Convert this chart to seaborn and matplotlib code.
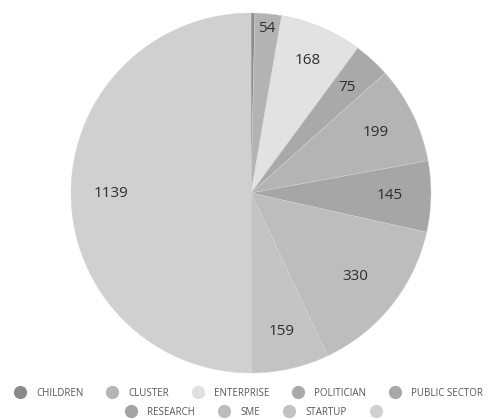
import numpy as np
import matplotlib
matplotlib.use("Agg")
import matplotlib.pyplot as plt
from matplotlib.lines import Line2D
import seaborn as sns

categories = ["CHILDREN", "CLUSTER", "ENTERPRISE", "POLITICIAN", "PUBLIC SECTOR",
              "RESEARCH", "SME", "STARTUP", ""]
values = [8, 54, 168, 75, 199, 145, 330, 159, 1139]
colors = ["#8c8c8c", "#b3b3b3", "#e2e2e2", "#a9a9a9", "#b4b4b4",
          "#a6a6a6", "#bdbdbd", "#c3c3c3", "#d0d0d0"]
legend_colors = ["#8a8a8a", "#b5b5b5", "#e0e0e0", "#a9a9a9", "#a8a8a8",
                 "#a3a3a3", "#bcbcbc", "#c2c2c2", "#d0d0d0"]
label_r = [None, 0.92, 0.80, 0.79, 0.77, 0.77, 0.74, 0.79, 0.78]

sns.set_theme(style="white")
plt.rcParams["font.family"] = ["Open Sans", "DejaVu Sans"]

fig = plt.figure(figsize=(4.88, 4.19), dpi=100)
ax = fig.add_axes([71 / 488, (419 - 373) / 419, 360 / 488, 360 / 419])

wedges, _ = ax.pie(values, colors=colors, startangle=90, counterclock=False,
                   radius=1.0, wedgeprops=dict(edgecolor="#d4d4d4", linewidth=0.3))
ax.set_xlim(-1, 1)
ax.set_ylim(-1, 1)
ax.set_aspect("auto")
ax.axis("off")

for w, v, r in zip(wedges, values, label_r):
    if r is None:
        continue
    ang = np.deg2rad((w.theta1 + w.theta2) / 2)
    ax.text(r * np.cos(ang), r * np.sin(ang), str(v), ha="center", va="center",
            fontsize=11, color="#2e2e2e")

def make_handles(idx):
    return [Line2D([0], [0], marker="o", linestyle="", markersize=8.5,
                   markerfacecolor=legend_colors[i], markeredgecolor=legend_colors[i])
            for i in idx]

row1 = list(range(5))
row2 = list(range(5, 9))
kw = dict(frameon=False, fontsize=7.0, labelcolor="#555555", handlelength=1.0,
          handletextpad=1.15, borderaxespad=0, borderpad=0)
leg1 = fig.legend(make_handles(row1), [categories[i] for i in row1], ncol=5,
                  columnspacing=2.45, loc="center",
                  bbox_to_anchor=(249 / 488, 1 - 393 / 419), **kw)
leg2 = fig.legend(make_handles(row2), [categories[i] for i in row2], ncol=4,
                  columnspacing=2.5, loc="center",
                  bbox_to_anchor=(259 / 488, 1 - 412 / 419), **kw)

fig.savefig("out.png", dpi=100)
